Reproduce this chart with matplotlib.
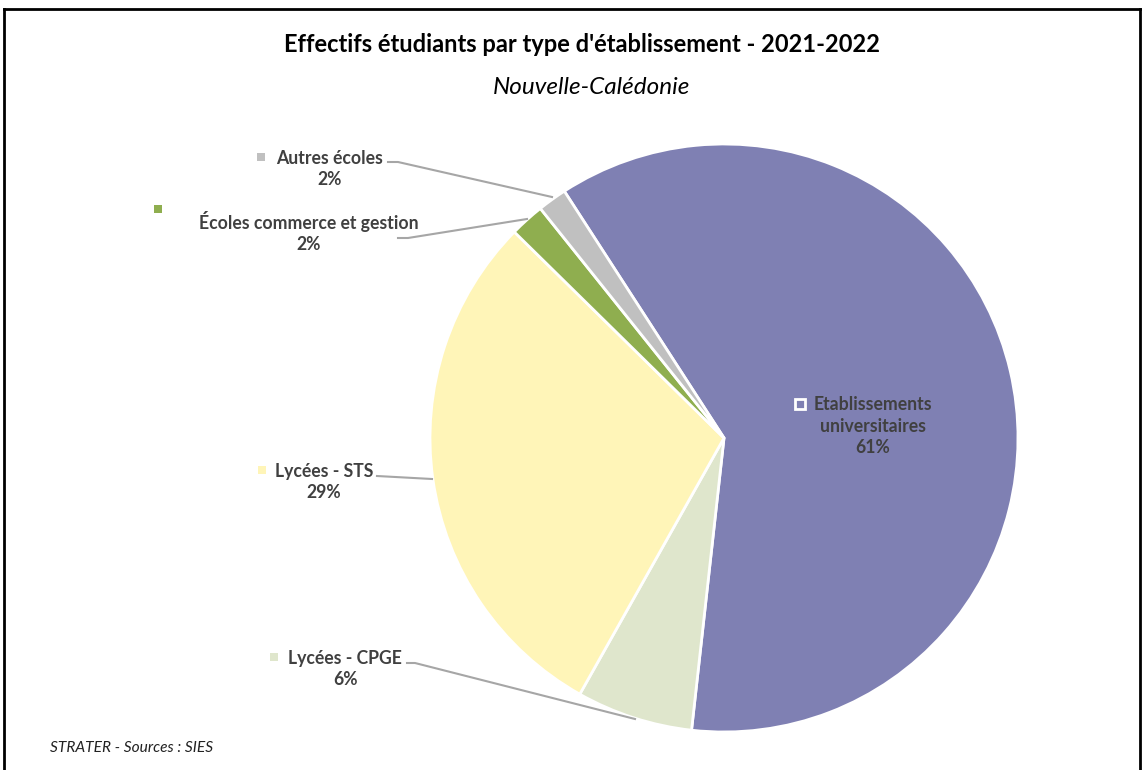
import matplotlib.pyplot as plt
from matplotlib.patches import Rectangle

# data (shares in %)
categories = ['Etablissements\nuniversitaires', 'Lycées - CPGE', 'Lycées - STS',
              'Écoles commerce et gestion', 'Autres écoles']
shares = [60.9, 6.4, 29.2, 1.9, 1.6]
colors = ['#7f80b3', '#dfe6cc', '#fff5b8', '#8fae4f', '#c0c0c0']

title = "Effectifs étudiants par type d'établissement - 2021-2022"
subtitle = 'Nouvelle-Calédonie'
source = 'STRATER - Sources : SIES'

W, H = 1142, 770
LABEL_COLOR = '#404040'
LINE_COLOR = '#a6a6a6'


def py(y):
    # pixel row (from top) -> data y
    return H - y


def main():
    fig = plt.figure(figsize=(W / 100, H / 100), dpi=100)
    ax = fig.add_axes([0, 0, 1, 1])
    ax.pie(shares, colors=colors, startangle=122.9, counterclock=False,
           center=(724, py(438)), radius=294,
           wedgeprops={'edgecolor': 'white', 'linewidth': 2})
    ax.set_xlim(0, W)
    ax.set_ylim(0, H)
    ax.set_aspect('equal')
    ax.axis('off')

    # frame (bottom edge is cut off in the original)
    ax.plot([4, 4], [py(9), 0], color='black', lw=2)
    ax.plot([4, 1140], [py(9), py(9)], color='black', lw=2)
    ax.plot([1140, 1140], [py(9), 0], color='black', lw=2)

    ax.text(582, py(44), title, ha='center', va='center', fontsize=17,
            fontweight='bold', family='Lato', color='black')
    ax.text(592, py(88), subtitle, ha='center', va='center', fontsize=17.5,
            style='italic', family='Lato', color='black')
    ax.text(50, py(748), source, ha='left', va='center', fontsize=11.2,
            style='italic', family='Lato', color='#222222')

    # label text centre, marker position, leader line points
    layout = [
        ((873, 426), (800, 404), None),
        ((345, 669), (274, 657), [(407, 663), (415, 663), (635, 719)]),
        ((324, 482), (262, 470), [(377, 476), (432, 479)]),
        ((309, 232), (158, 209), [(398, 238), (408, 238), (527, 219)]),
        ((330, 169), (261, 157), [(388, 162), (398, 162), (552, 197)]),
    ]
    for cat, share, col, (pos, mark, line) in zip(categories, shares, colors, layout):
        ax.text(pos[0], py(pos[1]), '{}\n{:.0f}%'.format(cat, share),
                ha='center', va='center', fontsize=12.7, fontweight='bold',
                family='Lato', color=LABEL_COLOR, linespacing=1.32)
        if col == colors[0]:
            ax.add_patch(Rectangle((mark[0] - 5, py(mark[1]) - 5), 10, 10,
                                   facecolor='none', edgecolor='white', lw=2))
        else:
            ax.add_patch(Rectangle((mark[0] - 4, py(mark[1]) - 4), 8, 8,
                                   facecolor=col, edgecolor='none'))
        if line:
            ax.plot([p[0] for p in line], [py(p[1]) for p in line],
                    color=LINE_COLOR, lw=1.5)

    fig.savefig('out.png', dpi=100, facecolor='white')


if __name__ == '__main__':
    main()
